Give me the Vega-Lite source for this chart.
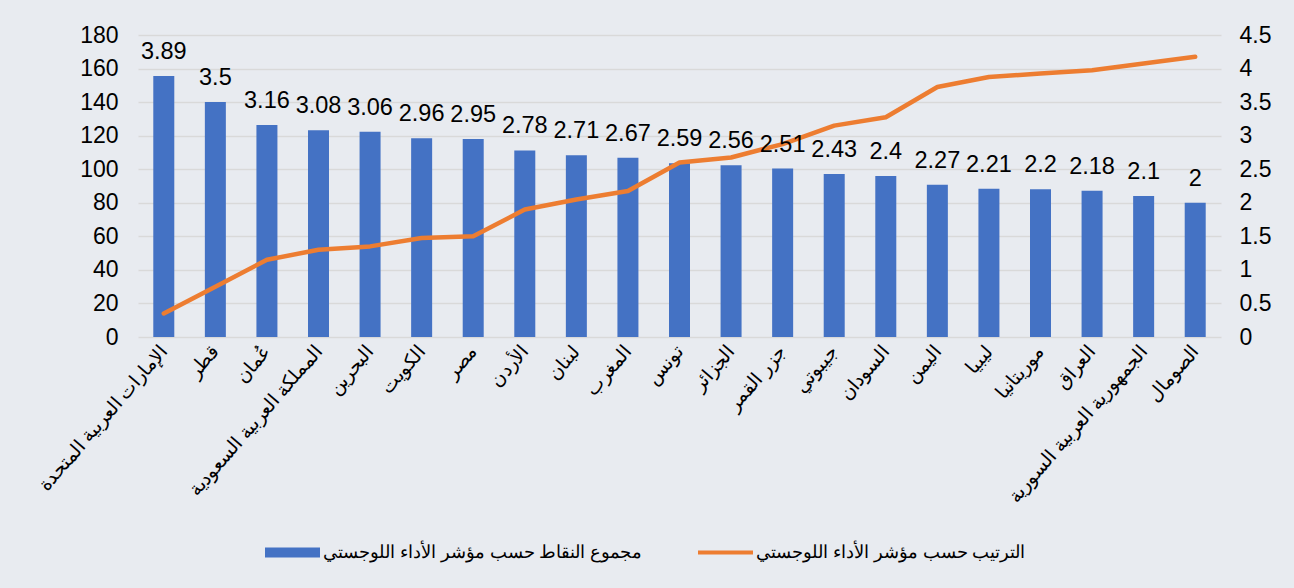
{
  "$schema": "https://vega.github.io/schema/vega-lite/v6.json",
  "autosize": {"type": "none"},
  "width": 1083,
  "height": 302,
  "padding": {"left": 138, "top": 35, "right": 73, "bottom": 251},
  "background": "#E8EBF0",
  "config": {
    "view": {"stroke": null},
    "font": "Liberation Sans",
    "axis": {"labelColor": "#000000", "labelFont": "Liberation Sans", "domain": false, "ticks": false}
  },
  "data": {
    "values": [
      {"country": "الإمارات العربية المتحدة", "score": 3.89, "rank": 14},
      {"country": "قطر", "score": 3.5, "rank": 30},
      {"country": "عُمان", "score": 3.16, "rank": 46},
      {"country": "المملكة العربية السعودية", "score": 3.08, "rank": 52},
      {"country": "البحرين", "score": 3.06, "rank": 54},
      {"country": "الكويت", "score": 2.96, "rank": 59},
      {"country": "مصر", "score": 2.95, "rank": 60},
      {"country": "الأردن", "score": 2.78, "rank": 76},
      {"country": "لبنان", "score": 2.71, "rank": 82},
      {"country": "المغرب", "score": 2.67, "rank": 87},
      {"country": "تونس", "score": 2.59, "rank": 104},
      {"country": "الجزائر", "score": 2.56, "rank": 107},
      {"country": "جزر القمر", "score": 2.51, "rank": 115},
      {"country": "جيبوتي", "score": 2.43, "rank": 126},
      {"country": "السودان", "score": 2.4, "rank": 131},
      {"country": "اليمن", "score": 2.27, "rank": 149},
      {"country": "ليبيا", "score": 2.21, "rank": 155},
      {"country": "موريتانيا", "score": 2.2, "rank": 157},
      {"country": "العراق", "score": 2.18, "rank": 159},
      {"country": "الجمهورية العربية السورية", "score": 2.1, "rank": 163},
      {"country": "الصومال", "score": 2, "rank": 167}
    ]
  },
  "encoding": {
    "x": {
      "field": "country", "type": "nominal", "sort": null, "title": null,
      "scale": {"paddingInner": 0.1, "paddingOuter": 0.05},
      "axis": {"labelAngle": -49, "labelFontSize": 19, "labelPadding": 11, "labelLimit": 300, "grid": false}
    }
  },
  "layer": [
    {
      "mark": {"type": "bar", "size": 21, "color": "#4472C4"},
      "encoding": {
        "y": {
          "field": "score", "type": "quantitative", "title": null,
          "scale": {"domain": [0, 4.5], "nice": false},
          "axis": {"orient": "right", "values": [0, 0.5, 1, 1.5, 2, 2.5, 3, 3.5, 4, 4.5], "format": ".1~f", "grid": false, "labelFontSize": 23, "labelPadding": 18}
        },
        "color": {
          "datum": "مجموع النقاط حسب مؤشر الأداء اللوجستي",
          "scale": {
            "domain": ["مجموع النقاط حسب مؤشر الأداء اللوجستي", "الترتيب حسب مؤشر الأداء اللوجستي"],
            "range": ["#4472C4", "#ED7D31"]
          },
          "legend": {
            "title": null,
            "orient": "none",
            "legendX": 127,
            "legendY": 490,
            "direction": "horizontal",
            "symbolSize": 3025,
            "labelFontSize": 17.5,
            "labelFont": "Liberation Sans",
            "labelColor": "#000000",
            "labelLimit": 600,
            "labelOffset": 3,
            "columnPadding": 55,
            "encode": {
              "symbols": {
                "update": {
                  "shape": {"signal": "datum.index === 0 ? 'M-1,-0.18H1V0.18H-1Z' : 'M-1,-0.075H1V0.075H-1Z'"},
                  "fill": {"signal": "datum.index === 0 ? '#4472C4' : '#ED7D31'"},
                  "stroke": {"value": "transparent"},
                  "strokeWidth": {"value": 0},
                  "opacity": {"value": 1},
                  "fillOpacity": {"value": 1}
                }
              }
            }
          }
        }
      }
    },
    {
      "mark": {"type": "line", "color": "#ED7D31", "strokeWidth": 4.5, "strokeCap": "round", "strokeJoin": "round"},
      "encoding": {
        "y": {
          "field": "rank", "type": "quantitative", "title": null,
          "scale": {"domain": [0, 180], "nice": false},
          "axis": {"orient": "left", "values": [0, 20, 40, 60, 80, 100, 120, 140, 160, 180], "grid": true, "gridColor": "#D9D9D9", "gridWidth": 1.5, "labelFontSize": 23, "labelPadding": 20}
        },
        "color": {"datum": "الترتيب حسب مؤشر الأداء اللوجستي"}
      }
    },
    {
      "mark": {"type": "text", "fontSize": 23.5, "dy": -17, "baseline": "alphabetic", "color": "#000000"},
      "encoding": {
        "y": {"field": "score", "type": "quantitative", "scale": {"domain": [0, 4.5], "nice": false}, "axis": null},
        "text": {"field": "score", "type": "quantitative", "format": "~g"}
      }
    }
  ],
  "resolve": {"scale": {"y": "independent"}}
}
